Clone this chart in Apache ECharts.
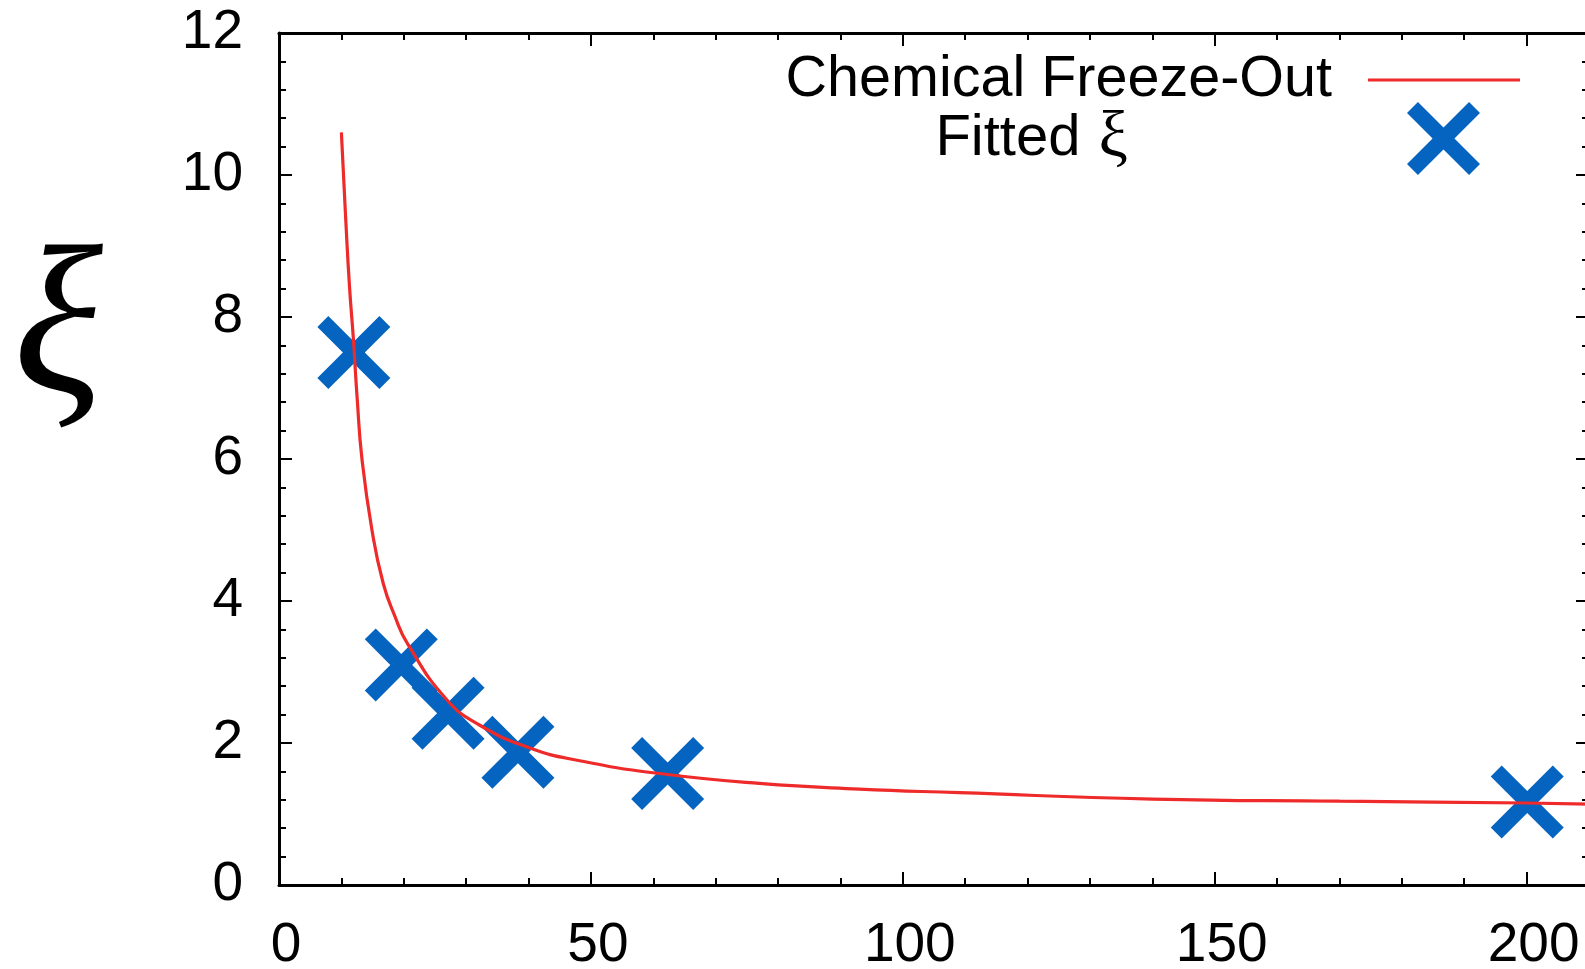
<!DOCTYPE html>
<html>
<head>
<meta charset="utf-8">
<script src="https://cdn.jsdelivr.net/npm/echarts@6/dist/echarts.min.js"></script>
<style>
  html, body { margin: 0; padding: 0; overflow: hidden; background: #fff; }
  #chart { width: 1600px; height: 969px; }
</style>
</head>
<body>
<div id="chart"></div>
<script>
// Chemical freeze-out curve (collision energy vs. xi)
const curveX = [10.0, 10.7, 11.3, 11.9, 12.55, 13.3, 14.9, 16.7, 18.6, 20.6, 26.9, 32.2, 40.2, 48.2, 61.0, 77.0, 93.0, 109.0, 140.0, 170.0, 200.0, 210.0];
const curveY = [10.6, 9.37, 8.43, 7.72, 6.83, 6.00, 5.00, 4.25, 3.78, 3.40, 2.61, 2.25, 1.93, 1.75, 1.57, 1.43, 1.35, 1.30, 1.21, 1.18, 1.155, 1.14];

// Fitted xi values
const energies = [12.0, 19.6, 27.1, 38.3, 62.3, 200.1];
const xiFit = [7.50, 3.10, 2.42, 1.87, 1.57, 1.17];

// Tick labels
const xTicks = [0, 50, 100, 150, 200];
const yTicks = [0, 2, 4, 6, 8, 10, 12];

const FONT = '"Liberation Sans", Arial, Helvetica, sans-serif';
const SERIF = '"Liberation Serif", "Times New Roman", serif';
const RED = '#ee2a2a';
const BLUE = '#0564c0';
const CROSS = 'path://M0 15 L15 0 L50 35 L85 0 L100 15 L65 50 L100 85 L85 100 L50 65 L15 100 L0 85 L35 50 Z';

function xAxisDef(position, interval, tickLen, showLine, showLabel) {
  return {
    type: 'value', position: position, min: 0, max: 210, interval: interval,
    axisLine: { show: showLine, onZero: false, lineStyle: { color: '#000', width: 3 } },
    axisTick: { show: true, inside: true, length: tickLen, lineStyle: { color: '#000', width: 2 } },
    axisLabel: {
      show: showLabel, margin: 33, fontSize: 55, fontFamily: FONT, color: '#000',
      padding: [0, 0, 0, 14],
      formatter: v => xTicks.includes(v) ? String(v) : ''
    },
    splitLine: { show: false }
  };
}

function yAxisDef(position, showLabel) {
  return {
    type: 'value', position: position, min: 0, max: 12, interval: 2,
    axisLine: { show: true, onZero: false, lineStyle: { color: '#000', width: 3 } },
    axisTick: { show: true, inside: true, length: 13, lineStyle: { color: '#000', width: 2 } },
    minorTick: { show: true, splitNumber: 5, length: 7, lineStyle: { color: '#000', width: 2 } },
    axisLabel: {
      show: showLabel, margin: 36, fontSize: 55, fontFamily: FONT, color: '#000',
      formatter: v => yTicks.includes(v) ? String(v) : ''
    },
    splitLine: { show: false }
  };
}

const chart = echarts.init(document.getElementById('chart'), null, { renderer: 'canvas' });

chart.setOption({
  animation: false,
  backgroundColor: '#fff',
  grid: { left: 279, top: 33, bottom: 84, right: 11, containLabel: false, outerBoundsMode: 'none' },
  xAxis: [
    xAxisDef('bottom', 50, 13, true, true),
    xAxisDef('bottom', 10, 7, false, false),
    xAxisDef('top', 50, 13, true, false),
    xAxisDef('top', 10, 7, false, false)
  ],
  yAxis: [
    yAxisDef('left', true),
    yAxisDef('right', false)
  ],
  legend: [
    {
      data: [{ name: 'Chemical Freeze-Out', icon: 'rect' }],
      orient: 'vertical', align: 'right', right: 80, top: 50,
      itemWidth: 152, itemHeight: 3, padding: 0, selectedMode: false,
      itemStyle: { color: RED },
      textStyle: { fontSize: 57.5, fontFamily: FONT, color: '#000', lineHeight: 60, padding: [0, 31, 0, 0] }
    },
    {
      data: ['Fitted ξ'],
      orient: 'vertical', align: 'right', right: 120, top: 102,
      itemWidth: 73, itemHeight: 73, padding: 0, selectedMode: false,
      formatter: () => 'Fitted {g|ξ}',
      textStyle: {
        fontSize: 58, fontFamily: FONT, color: '#000', lineHeight: 60, padding: [0, 274, 0, 0],
        rich: { g: { fontSize: 66, fontFamily: SERIF, color: '#000', padding: [0, 0, 0, 2] } }
      }
    }
  ],
  graphic: [
    {
      type: 'text', x: 58, y: 336,
      style: { text: 'ξ', font: 'italic 210px ' + SERIF, fill: '#000', textAlign: 'center', textVerticalAlign: 'middle' }
    }
  ],
  series: [
    {
      name: 'Chemical Freeze-Out', type: 'line',
      xAxisIndex: 0, yAxisIndex: 0,
      data: curveX.map((x, i) => [x, curveY[i]]),
      symbol: 'none', showSymbol: false, smooth: 0.5,
      lineStyle: { color: RED, width: 3.2 }, itemStyle: { color: RED },
      silent: true
    },
    {
      name: 'Fitted ξ', type: 'scatter',
      xAxisIndex: 0, yAxisIndex: 0,
      data: energies.map((x, i) => [x, xiFit[i]]),
      symbol: CROSS, symbolSize: 73,
      itemStyle: { color: BLUE, opacity: 1 },
      silent: true
    }
  ]
});
</script>
</body>
</html>
